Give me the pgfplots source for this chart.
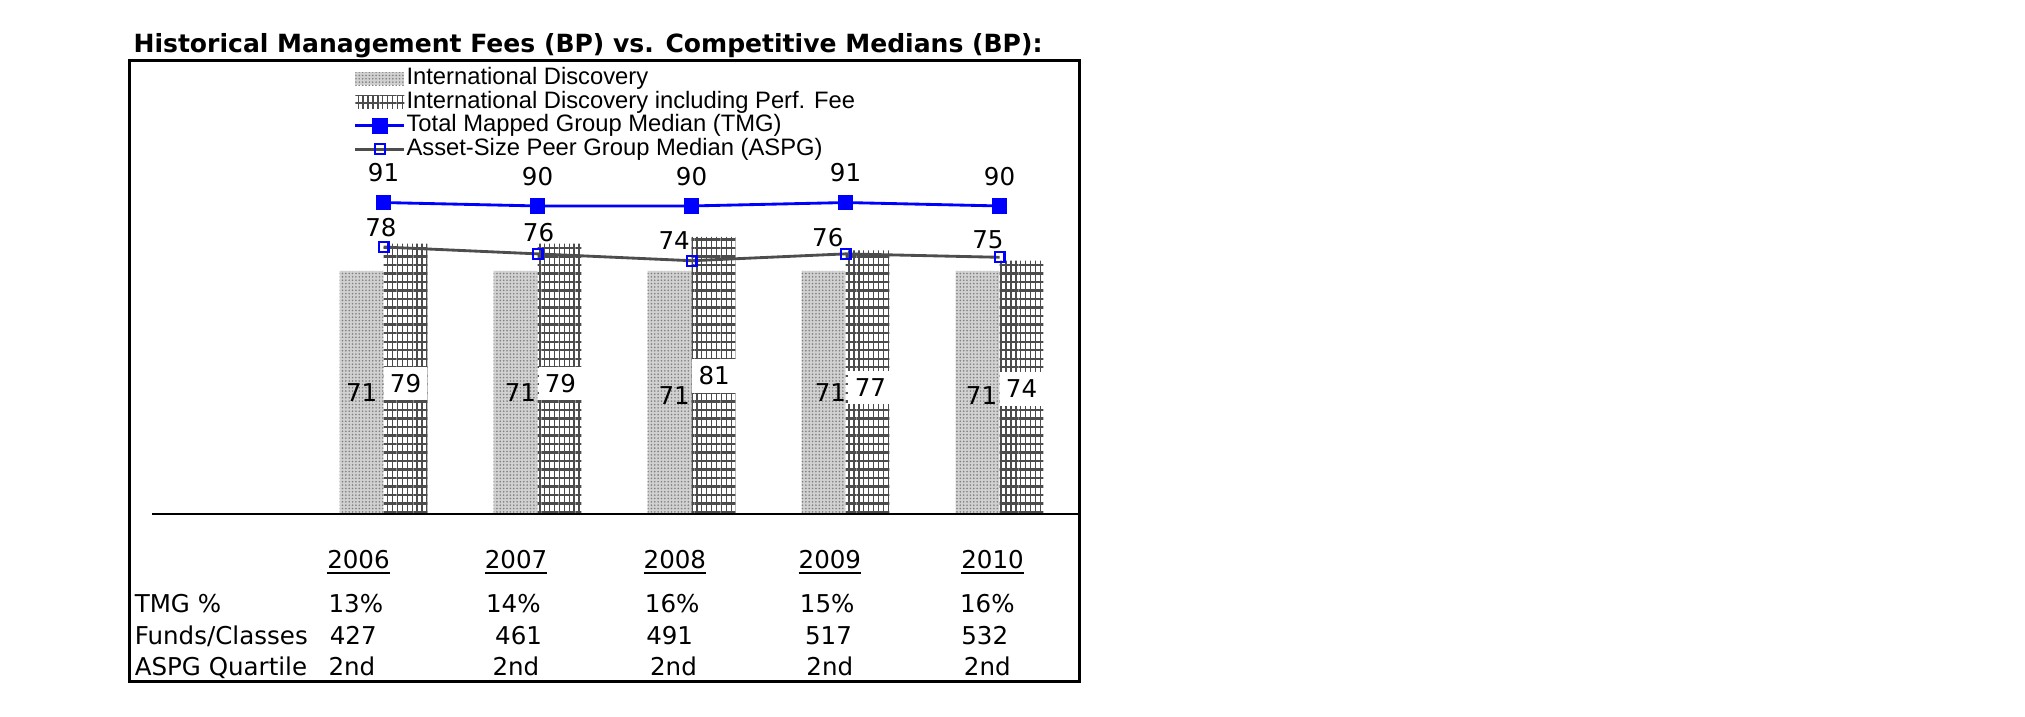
\documentclass[border=0pt]{standalone}
\usepackage{pgfplots}
\pgfplotsset{compat=1.18}
\usepackage{pgfplotstable}
\usetikzlibrary{patterns.meta}
\usepackage{fontspec}
\setmainfont{DejaVu Sans}
\newfontfamily\legfont{Liberation Sans}
\definecolor{tmgblue}{RGB}{0,0,255}
\definecolor{aspggray}{RGB}{77,77,77}
\newcommand\ul[1]{\leavevmode\setbox0=\hbox{#1}\rlap{\rule[-2.4pt]{\wd0}{0.9pt}}\box0}

\pgfplotsset{
  barlegend/.style={legend image code/.code={\path[##1,draw=none] (0pt,-2.5pt) rectangle (19pt,2.5pt);}},
  linelegend/.style={legend image code/.code={\draw[mark repeat=2,mark phase=2,##1] plot coordinates {(0pt,0pt)(9.5pt,0pt)(19pt,0pt)};}},
}

% fees in basis points, one row per year (x = 0..4 for 2006..2010)
\pgfplotstableread{
x id idperf tmg aspg
0 71 79 91 78
1 71 79 90 76
2 71 81 90 74
3 71 77 91 76
4 71 74 90 75
}\fees

\begin{document}
\begin{tikzpicture}
\path (0,0) rectangle (784pt,277.5pt);
\begin{axis}[
  at={(50pt,13.5pt)}, anchor=south west,
  width=368pt, height=240.5pt, scale only axis,
  xmin=-1.652, xmax=4.520, ymin=-49.06, ymax=132.45,
  hide axis, clip=false,
  /pgf/number format/assume math mode=true,
  legend cell align=left,
  legend style={at={(axis cs:-0.193,130.6)}, anchor=north west,
    draw=none, fill=none, inner sep=0pt, outer sep=0pt,
    row sep=0pt, column sep=0pt,
    font=\legfont\fontsize{9.2}{10}\selectfont,
    nodes={inner sep=0.3pt, text height=6.5pt, text depth=2pt}},
]
\addplot[ybar, bar width=0.285, bar shift=-0.1425, draw=none, fill=black!18,
  postaction={pattern={Dots[distance=1.3pt,radius=0.35pt]}, pattern color=black!50},
  barlegend]
  table[x=x,y=id]{\fees};
\addplot[ybar, bar width=0.285, bar shift=0.1425, draw=none, fill=white,
  postaction={pattern={Lines[angle=90,distance=1.9pt,line width=0.55pt]}, pattern color=black!70},
  postaction={pattern={Lines[angle=0,distance=3.3pt,line width=0.9pt]}, pattern color=black!70},
  barlegend]
  table[x=x,y=idperf]{\fees};
\addplot[tmgblue, line width=1.1pt, mark=square*, mark size=2.5pt,
  nodes near coords,
  nodes near coords style={black, anchor=center, yshift=11.5pt, font=\fontsize{9.5}{11}\selectfont},
  linelegend]
  table[x=x,y=tmg]{\fees};
\addplot[aspggray, line width=1.1pt, mark=square, mark size=1.9pt,
  mark options={draw=tmgblue, fill=none, line width=0.8pt},
  linelegend]
  table[x=x,y=aspg]{\fees};
\legend{International Discovery, International Discovery including Perf. Fee,
  Total Mapped Group Median (TMG), Asset-Size Peer Group Median (ASPG)}
\end{axis}

\begin{scope}[x=0.5pt, y=-0.5pt, shift={(0pt,277.5pt)}, font=\fontsize{9.5}{11}\selectfont]
\draw[line width=1.2pt] (100,47) rectangle (836,528);
\draw[line width=1pt] (118,398) -- (836,398);
\node[anchor=base west, inner sep=0pt, font=\bfseries\fontsize{9.7}{12}\selectfont] at (103,41)
  {Historical Management Fees (BP) vs. Competitive Medians (BP):};
% bar labels
\foreach \xx/\yy in {280/304, 403/304, 522/306, 643/304, 760/306}
  \node[inner sep=0pt] at (\xx,\yy) {71};
\foreach \xx/\yy/\v in {314/297/79, 434/297/79, 553/291/81, 674/300/77, 791/301/74}
  \node[fill=white, inner sep=0pt, minimum width=17pt, minimum height=13pt] at (\xx,\yy) {\v};
\foreach \xx/\yy/\v in {295/176/78, 417/180/76, 522/186/74, 641/184/76, 765/186/75}
  \node[inner sep=0pt] at (\xx,\yy) {\v};
% table below the chart
\foreach \xx/\v in {253/2006, 375/2007, 498/2008, 618/2009, 744/2010}
  \node[anchor=base west, inner sep=0pt] at (\xx,440) {\ul{\v}};
\node[anchor=base west, inner sep=0pt] at (104,474) {TMG \%};
\node[anchor=base west, inner sep=0pt] at (104,499) {Funds/Classes};
\node[anchor=base west, inner sep=0pt] at (104,523) {ASPG Quartile};
\foreach \xx/\v in {254/13, 376/14, 499/16, 619/15, 743/16}
  \node[anchor=base west, inner sep=0pt] at (\xx,474) {\v\%};
\foreach \xx/\v in {255/427, 383/461, 500/491, 623/517, 744/532}
  \node[anchor=base west, inner sep=0pt] at (\xx,499) {\v};
\foreach \xx/\v in {254/2nd, 381/2nd, 503/2nd, 624/2nd, 746/2nd}
  \node[anchor=base west, inner sep=0pt] at (\xx,523) {\v};
\end{scope}
\end{tikzpicture}
\end{document}
